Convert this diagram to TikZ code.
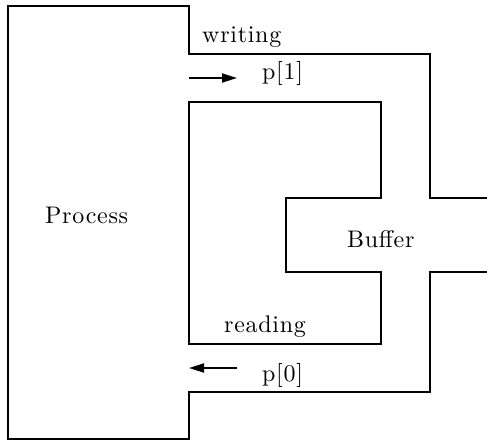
\documentclass[tikz,border=0pt]{standalone}
\usepackage{fontspec}
\usetikzlibrary{arrows.meta}
% 10pt design size of Latin Modern, scaled up, for the heavier strokes
\newfontfamily\labelfont{lmroman10-regular.otf}[LetterSpace=3]
\tikzset{
  wall/.style={line width=1.8pt, line join=miter},
  flow/.style={line width=1.8pt, -{Triangle[length=15pt,width=9pt]}},
  lbl/.style={anchor=base west, inner sep=0pt, font=\labelfont\fontsize{24}{28}\selectfont}
}
\begin{document}
\begin{tikzpicture}[x=1pt, y=-1pt]
\useasboundingbox (0,0) rectangle (487,441);
% outer wall: process box together with the two pipes' outer sides
\draw[wall] (487,198) -- (430,198) -- (430,54) -- (189,54) -- (189,6)
  -- (8,6) -- (8,439) -- (189,439) -- (189,392) -- (430,392) -- (430,272) -- (487,272);
% inner wall between the pipes, with the buffer notch
\draw[wall] (189,102) -- (381,102) -- (381,198) -- (286,198) -- (286,272)
  -- (381,272) -- (381,344) -- (189,344) -- cycle;
% labels
\node[lbl] (proc) at (45,223) {Process};
\node[lbl] (buf) at (347,247) {Buffer};
\node[lbl] (wr) at (202,43) {writing};
\node[lbl] (rd) at (224,332) {reading};
\node[lbl] (p1) at (262,80) {p[1]};
\node[lbl] (p0) at (262,381) {p[0]};
% flow direction arrows
\coordinate (w0) at (189,78);
\coordinate (w1) at (237,78);
\coordinate (r0) at (237,368);
\coordinate (r1) at (189,368);
\draw[flow] (w0) -- (w1);
\draw[flow] (r0) -- (r1);
\end{tikzpicture}
\end{document}
